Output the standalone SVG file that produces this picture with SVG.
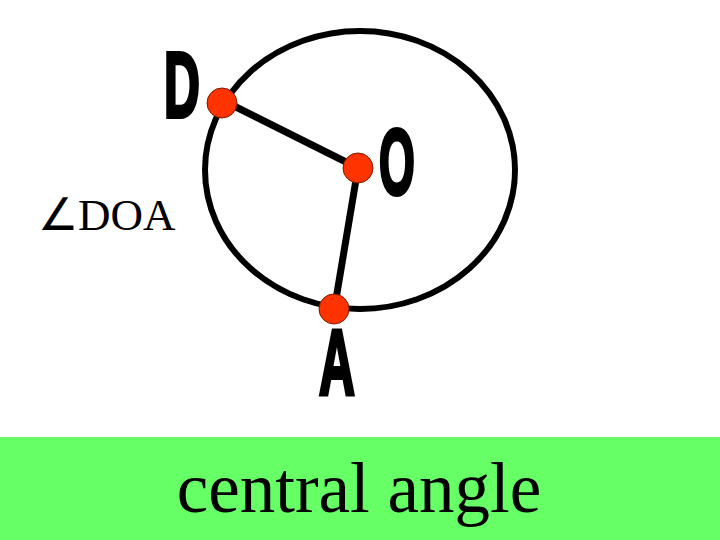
<svg xmlns="http://www.w3.org/2000/svg" width="720" height="540" viewBox="0 0 720 540">
<style>
.lbl{font-family:"Liberation Sans",Arial,sans-serif;font-weight:bold;font-size:92px;fill:#000;stroke:#000;stroke-width:4;stroke-linejoin:miter;text-anchor:middle}
.pt{fill:#FF3300;stroke:#7a1a00;stroke-width:1}
.ln{stroke:#000;stroke-width:7;stroke-linecap:round}
.serif{font-family:"Liberation Serif","Times New Roman",serif;fill:#000}
</style>
<rect x="0" y="0" width="720" height="540" fill="#fff"/>
<rect x="0" y="437" width="720" height="103" fill="#66FF66"/>
<ellipse cx="360" cy="170" rx="155" ry="139" fill="none" stroke="#000" stroke-width="6"/>
<g id="connectors">
<line class="ln" x1="228" y1="103" x2="358" y2="168"/>
<line class="ln" x1="358" y1="168" x2="335" y2="305"/>
</g>
<g id="node-D">
<circle class="pt" cx="222" cy="103" r="15"/>
<text class="lbl" transform="translate(182,117) scale(0.54,1)">D</text>
</g>
<g id="node-O">
<circle class="pt" cx="358" cy="168" r="15"/>
<text class="lbl" transform="translate(397,194) scale(0.5,1)">O</text>
</g>
<g id="node-A">
<circle class="pt" cx="334" cy="309" r="15"/>
<text class="lbl" transform="translate(337,394) scale(0.54,1)">A</text>
</g>
<text class="serif" x="38" y="230" font-size="45">∠DOA</text>
<text class="serif" x="359" y="512" font-size="71" text-anchor="middle">central angle</text>
</svg>
